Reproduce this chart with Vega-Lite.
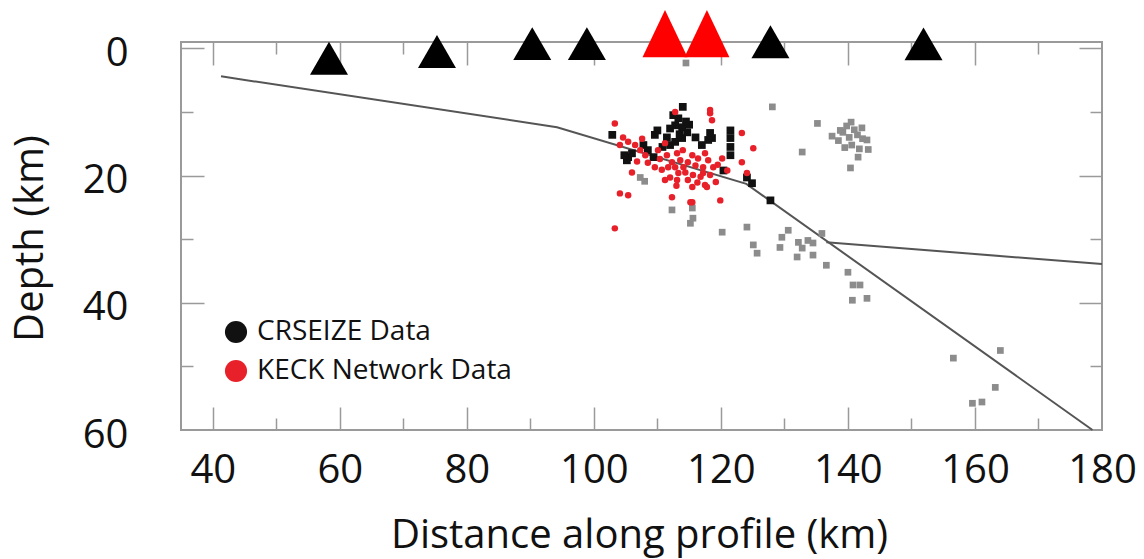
{
  "$schema": "https://vega.github.io/schema/vega-lite/v6.json",
  "width": 921,
  "height": 388,
  "autosize": "none",
  "padding": {"left": 181, "top": 42, "right": 42, "bottom": 129},
  "background": "white",
  "config": {
    "view": {"stroke": "#9a9a9a", "strokeWidth": 2},
    "axis": {"domain": false, "grid": false, "tickColor": "#9a9a9a", "tickWidth": 1.5, "labelFont": "Open Sans", "titleFont": "Open Sans", "labelColor": "#111", "titleColor": "#111", "labelFontSize": 40, "titleFontSize": 40, "titleFontWeight": "normal", "labelFlush": false, "labelOverlap": false},
    "legend": {"labelFont": "Open Sans", "labelFontSize": 28, "labelColor": "#111", "labelLimit": 0}
  },
  "datasets": {
    "slab": [{"x": 41.3, "d": 4.4}, {"x": 94.2, "d": 12.4}, {"x": 124.0, "d": 21.3}, {"x": 178.5, "d": 60.0}],
    "moho": [{"x": 136.6, "d": 30.5}, {"x": 180.0, "d": 33.9}],
    "grey": [
      {"x": 114.5, "d": 2.3}, {"x": 128.1, "d": 9.2}, {"x": 135.2, "d": 11.8}, {"x": 132.8, "d": 16.3},
      {"x": 137.5, "d": 13.8}, {"x": 138.5, "d": 14.5}, {"x": 139.2, "d": 13.2}, {"x": 139.8, "d": 12.2}, {"x": 140.2, "d": 14.0}, {"x": 140.6, "d": 15.2}, {"x": 141.0, "d": 12.8}, {"x": 141.5, "d": 13.6}, {"x": 140.5, "d": 11.6}, {"x": 141.8, "d": 15.8}, {"x": 142.3, "d": 14.2}, {"x": 139.5, "d": 15.6}, {"x": 143.0, "d": 14.4}, {"x": 143.2, "d": 15.9}, {"x": 141.6, "d": 17.1}, {"x": 140.4, "d": 18.8}, {"x": 138.8, "d": 12.9}, {"x": 142.2, "d": 12.5},
      {"x": 107.3, "d": 20.3}, {"x": 108.0, "d": 20.9}, {"x": 112.3, "d": 25.4}, {"x": 115.5, "d": 25.1}, {"x": 115.2, "d": 27.5}, {"x": 115.6, "d": 26.7}, {"x": 120.2, "d": 28.9}, {"x": 124.1, "d": 28.1}, {"x": 125.1, "d": 30.9}, {"x": 125.7, "d": 32.2}, {"x": 129.6, "d": 29.7}, {"x": 129.3, "d": 31.3}, {"x": 130.6, "d": 28.6}, {"x": 132.2, "d": 30.5}, {"x": 132.8, "d": 31.4}, {"x": 132.0, "d": 32.8}, {"x": 133.7, "d": 30.2}, {"x": 134.5, "d": 30.6}, {"x": 135.9, "d": 29.1}, {"x": 134.5, "d": 32.5}, {"x": 136.6, "d": 34.1}, {"x": 140.0, "d": 35.2}, {"x": 140.8, "d": 37.2}, {"x": 141.9, "d": 37.2}, {"x": 140.7, "d": 39.6}, {"x": 143.0, "d": 39.3}, {"x": 156.6, "d": 48.7}, {"x": 164.0, "d": 47.5}, {"x": 163.2, "d": 53.3}, {"x": 159.6, "d": 55.8}, {"x": 161.1, "d": 55.6}
    ],
    "crseize": [
      {"x": 114.0, "d": 9.2, "source": "CRSEIZE Data"}, {"x": 113.3, "d": 11.0, "source": "CRSEIZE Data"}, {"x": 112.8, "d": 12.1, "source": "CRSEIZE Data"}, {"x": 113.9, "d": 12.4, "source": "CRSEIZE Data"}, {"x": 112.0, "d": 12.6, "source": "CRSEIZE Data"}, {"x": 111.5, "d": 14.0, "source": "CRSEIZE Data"}, {"x": 114.7, "d": 13.2, "source": "CRSEIZE Data"}, {"x": 116.0, "d": 14.0, "source": "CRSEIZE Data"}, {"x": 118.3, "d": 13.3, "source": "CRSEIZE Data"}, {"x": 118.6, "d": 14.1, "source": "CRSEIZE Data"}, {"x": 110.0, "d": 12.9, "source": "CRSEIZE Data"}, {"x": 109.6, "d": 13.6, "source": "CRSEIZE Data"}, {"x": 121.5, "d": 12.9, "source": "CRSEIZE Data"}, {"x": 121.5, "d": 14.1, "source": "CRSEIZE Data"}, {"x": 121.5, "d": 15.5, "source": "CRSEIZE Data"}, {"x": 102.9, "d": 13.6, "source": "CRSEIZE Data"}, {"x": 105.4, "d": 17.1, "source": "CRSEIZE Data"}, {"x": 105.2, "d": 17.6, "source": "CRSEIZE Data"}, {"x": 106.0, "d": 16.5, "source": "CRSEIZE Data"}, {"x": 107.8, "d": 15.2, "source": "CRSEIZE Data"}, {"x": 109.4, "d": 17.1, "source": "CRSEIZE Data"}, {"x": 108.5, "d": 16.0, "source": "CRSEIZE Data"}, {"x": 112.0, "d": 15.2, "source": "CRSEIZE Data"}, {"x": 112.8, "d": 14.7, "source": "CRSEIZE Data"}, {"x": 117.0, "d": 15.2, "source": "CRSEIZE Data"}, {"x": 118.0, "d": 14.4, "source": "CRSEIZE Data"}, {"x": 120.4, "d": 19.2, "source": "CRSEIZE Data"}, {"x": 113.9, "d": 14.1, "source": "CRSEIZE Data"}, {"x": 112.5, "d": 10.5, "source": "CRSEIZE Data"}, {"x": 124.1, "d": 20.3, "source": "CRSEIZE Data"}, {"x": 124.9, "d": 21.2, "source": "CRSEIZE Data"}, {"x": 127.8, "d": 23.9, "source": "CRSEIZE Data"}, {"x": 115.0, "d": 12.0, "source": "CRSEIZE Data"}, {"x": 113.5, "d": 13.5, "source": "CRSEIZE Data"}, {"x": 114.5, "d": 11.5, "source": "CRSEIZE Data"}, {"x": 104.8, "d": 16.8, "source": "CRSEIZE Data"}, {"x": 110.8, "d": 15.5, "source": "CRSEIZE Data"}, {"x": 121.5, "d": 16.8, "source": "CRSEIZE Data"}
    ],
    "keck": [
      {"x": 103.3, "d": 11.8, "source": "KECK Network Data"}, {"x": 118.3, "d": 10.2, "source": "KECK Network Data"}, {"x": 118.6, "d": 11.3, "source": "KECK Network Data"}, {"x": 112.8, "d": 10.0, "source": "KECK Network Data"}, {"x": 104.6, "d": 14.0, "source": "KECK Network Data"}, {"x": 105.4, "d": 14.7, "source": "KECK Network Data"}, {"x": 104.1, "d": 15.2, "source": "KECK Network Data"}, {"x": 106.5, "d": 15.2, "source": "KECK Network Data"}, {"x": 107.3, "d": 16.0, "source": "KECK Network Data"}, {"x": 108.1, "d": 16.8, "source": "KECK Network Data"}, {"x": 108.5, "d": 18.0, "source": "KECK Network Data"}, {"x": 110.1, "d": 16.0, "source": "KECK Network Data"}, {"x": 111.2, "d": 14.9, "source": "KECK Network Data"}, {"x": 111.5, "d": 16.8, "source": "KECK Network Data"}, {"x": 112.3, "d": 17.9, "source": "KECK Network Data"}, {"x": 113.1, "d": 16.5, "source": "KECK Network Data"}, {"x": 113.6, "d": 17.6, "source": "KECK Network Data"}, {"x": 114.1, "d": 18.7, "source": "KECK Network Data"}, {"x": 112.8, "d": 18.7, "source": "KECK Network Data"}, {"x": 111.7, "d": 18.7, "source": "KECK Network Data"}, {"x": 114.8, "d": 17.9, "source": "KECK Network Data"}, {"x": 115.5, "d": 16.8, "source": "KECK Network Data"}, {"x": 116.0, "d": 18.4, "source": "KECK Network Data"}, {"x": 116.4, "d": 17.3, "source": "KECK Network Data"}, {"x": 117.2, "d": 18.7, "source": "KECK Network Data"}, {"x": 117.5, "d": 16.5, "source": "KECK Network Data"}, {"x": 118.0, "d": 17.6, "source": "KECK Network Data"}, {"x": 118.8, "d": 18.7, "source": "KECK Network Data"}, {"x": 118.3, "d": 19.9, "source": "KECK Network Data"}, {"x": 110.7, "d": 19.1, "source": "KECK Network Data"}, {"x": 109.6, "d": 18.7, "source": "KECK Network Data"}, {"x": 113.3, "d": 19.6, "source": "KECK Network Data"}, {"x": 114.4, "d": 19.5, "source": "KECK Network Data"}, {"x": 115.6, "d": 19.9, "source": "KECK Network Data"}, {"x": 112.0, "d": 20.3, "source": "KECK Network Data"}, {"x": 113.1, "d": 20.7, "source": "KECK Network Data"}, {"x": 117.2, "d": 19.6, "source": "KECK Network Data"}, {"x": 114.8, "d": 20.7, "source": "KECK Network Data"}, {"x": 116.3, "d": 21.1, "source": "KECK Network Data"}, {"x": 117.5, "d": 21.5, "source": "KECK Network Data"}, {"x": 115.5, "d": 21.8, "source": "KECK Network Data"}, {"x": 111.2, "d": 20.7, "source": "KECK Network Data"}, {"x": 105.4, "d": 23.1, "source": "KECK Network Data"}, {"x": 112.3, "d": 23.4, "source": "KECK Network Data"}, {"x": 115.5, "d": 24.2, "source": "KECK Network Data"}, {"x": 119.9, "d": 23.9, "source": "KECK Network Data"}, {"x": 103.3, "d": 28.3, "source": "KECK Network Data"}, {"x": 117.8, "d": 21.8, "source": "KECK Network Data"}, {"x": 120.2, "d": 17.3, "source": "KECK Network Data"}, {"x": 121.0, "d": 19.2, "source": "KECK Network Data"}, {"x": 123.3, "d": 13.3, "source": "KECK Network Data"}, {"x": 125.1, "d": 15.7, "source": "KECK Network Data"}, {"x": 123.3, "d": 17.9, "source": "KECK Network Data"}, {"x": 124.1, "d": 19.6, "source": "KECK Network Data"}, {"x": 115.2, "d": 24.2, "source": "KECK Network Data"}, {"x": 118.3, "d": 9.7, "source": "KECK Network Data"}, {"x": 104.1, "d": 22.8, "source": "KECK Network Data"}, {"x": 106.8, "d": 17.8, "source": "KECK Network Data"}, {"x": 107.6, "d": 14.2, "source": "KECK Network Data"}, {"x": 110.4, "d": 17.4, "source": "KECK Network Data"}, {"x": 116.8, "d": 20.2, "source": "KECK Network Data"}, {"x": 119.5, "d": 18.3, "source": "KECK Network Data"}, {"x": 114.0, "d": 16.0, "source": "KECK Network Data"}, {"x": 113.0, "d": 21.6, "source": "KECK Network Data"}, {"x": 119.2, "d": 21.0, "source": "KECK Network Data"}, {"x": 106.0, "d": 19.5, "source": "KECK Network Data"}
    ],
    "stations": [
      {"x": 58.3, "d": 1.55, "network": "land"}, {"x": 75.3, "d": 0.5, "network": "land"}, {"x": 90.3, "d": -0.75, "network": "land"}, {"x": 98.9, "d": -0.75, "network": "land"}, {"x": 127.8, "d": -1.05, "network": "land"}, {"x": 151.9, "d": -0.7, "network": "land"},
      {"x": 111.2, "d": -2.3, "network": "keck"}, {"x": 117.8, "d": -2.3, "network": "keck"}
    ]
  },
  "layer": [
    {
      "data": {"name": "slab"},
      "mark": {"type": "line", "color": "#555555", "strokeWidth": 2},
      "encoding": {
        "x": {"field": "x", "type": "quantitative", "scale": {"domain": [35, 180], "nice": false, "zero": false},
              "axis": {"orient": "bottom", "values": [40, 60, 80, 100, 120, 140, 160, 180], "ticks": false, "labelPadding": 52, "labelBaseline": "alphabetic", "title": "Distance along profile (km)", "titleX": 458, "titleY": 117, "titleAlign": "center", "titleBaseline": "alphabetic", "titleAnchor": null}},
        "y": {"field": "d", "type": "quantitative", "scale": {"domain": [-1, 60], "reverse": true, "nice": false, "zero": false},
              "axis": {"orient": "left", "values": [0, 20, 40, 60], "ticks": false, "labelPadding": 53, "labelAlign": "right", "labelBaseline": "middle", "labelOffset": 5, "title": "Depth (km)", "titleX": -139, "titleY": 196, "titleAngle": 270, "titleAlign": "center", "titleBaseline": "alphabetic", "titleAnchor": null}}
      }
    },
    {
      "data": {"name": "moho"},
      "mark": {"type": "line", "color": "#555555", "strokeWidth": 2},
      "encoding": {
        "x": {"field": "x", "type": "quantitative", "scale": {"domain": [35, 180], "nice": false, "zero": false},
              "axis": {"orient": "bottom", "values": [40, 60, 80, 100, 120, 140, 160], "tickSize": -23, "labels": false, "title": null}},
        "y": {"field": "d", "type": "quantitative", "scale": {"domain": [-1, 60], "reverse": true, "nice": false, "zero": false},
              "axis": {"orient": "left", "values": [0, 20, 40], "tickSize": -23, "labels": false, "title": null}}
      }
    },
    {
      "data": {"name": "grey"},
      "mark": {"type": "square", "size": 45, "color": "#8c8c8c", "opacity": 1},
      "encoding": {
        "x": {"field": "x", "type": "quantitative", "scale": {"domain": [35, 180], "nice": false, "zero": false},
              "axis": {"orient": "bottom", "values": [50, 70, 90, 110, 130, 150, 170], "tickSize": -12, "labels": false, "title": null}},
        "y": {"field": "d", "type": "quantitative", "scale": {"domain": [-1, 60], "reverse": true, "nice": false, "zero": false},
              "axis": {"orient": "left", "values": [10, 30, 50], "tickSize": -12, "labels": false, "title": null}}
      }
    },
    {
      "data": {"name": "crseize"},
      "mark": {"type": "point", "shape": "square", "filled": true, "size": 60, "opacity": 1},
      "encoding": {
        "x": {"field": "x", "type": "quantitative", "scale": {"domain": [35, 180], "nice": false, "zero": false},
              "axis": {"orient": "top", "values": [40, 60, 80, 100, 120, 140, 160], "tickSize": -23, "labels": false, "title": null}},
        "y": {"field": "d", "type": "quantitative", "scale": {"domain": [-1, 60], "reverse": true, "nice": false, "zero": false},
              "axis": {"orient": "right", "values": [0, 20, 40], "tickSize": -23, "labels": false, "title": null}},
        "color": {"field": "source", "type": "nominal", "scale": {"domain": ["CRSEIZE Data", "KECK Network Data"], "range": ["#111111", "#e8202a"]},
                  "legend": {"title": null, "orient": "none", "legendX": 41, "legendY": 276, "direction": "vertical", "symbolType": "circle", "symbolSize": 490, "symbolStrokeWidth": 0, "labelOffset": 7, "rowPadding": 11, "padding": 0, "labelFontSize": 28, "labelLimit": 0}}
      }
    },
    {
      "data": {"name": "keck"},
      "mark": {"type": "point", "shape": "circle", "filled": true, "size": 42, "opacity": 1},
      "encoding": {
        "x": {"field": "x", "type": "quantitative", "scale": {"domain": [35, 180], "nice": false, "zero": false},
              "axis": {"orient": "top", "values": [50, 70, 90, 110, 130, 150, 170], "tickSize": -12, "labels": false, "title": null}},
        "y": {"field": "d", "type": "quantitative", "scale": {"domain": [-1, 60], "reverse": true, "nice": false, "zero": false},
              "axis": {"orient": "right", "values": [10, 30, 50], "tickSize": -12, "labels": false, "title": null}},
        "color": {"field": "source", "type": "nominal"}
      }
    },
    {
      "data": {"name": "stations"},
      "transform": [{"filter": "datum.network === 'land'"}],
      "mark": {"type": "point", "shape": "triangle-up", "filled": true, "size": 1444, "color": "#000000", "opacity": 1},
      "encoding": {
        "x": {"field": "x", "type": "quantitative", "scale": {"domain": [35, 180], "nice": false, "zero": false}, "axis": null},
        "y": {"field": "d", "type": "quantitative", "scale": {"domain": [-1, 60], "reverse": true, "nice": false, "zero": false}, "axis": null}
      }
    },
    {
      "data": {"name": "stations"},
      "transform": [{"filter": "datum.network === 'keck'"}],
      "mark": {"type": "point", "shape": "M0,-1.05L1,1.05L-1,1.05Z", "filled": true, "size": 2025, "color": "#ff0000", "opacity": 1},
      "encoding": {
        "x": {"field": "x", "type": "quantitative", "scale": {"domain": [35, 180], "nice": false, "zero": false}, "axis": null},
        "y": {"field": "d", "type": "quantitative", "scale": {"domain": [-1, 60], "reverse": true, "nice": false, "zero": false}, "axis": null}
      }
    }
  ],
  "resolve": {"scale": {"x": "independent", "y": "independent"}, "axis": {"x": "independent", "y": "independent"}}
}
